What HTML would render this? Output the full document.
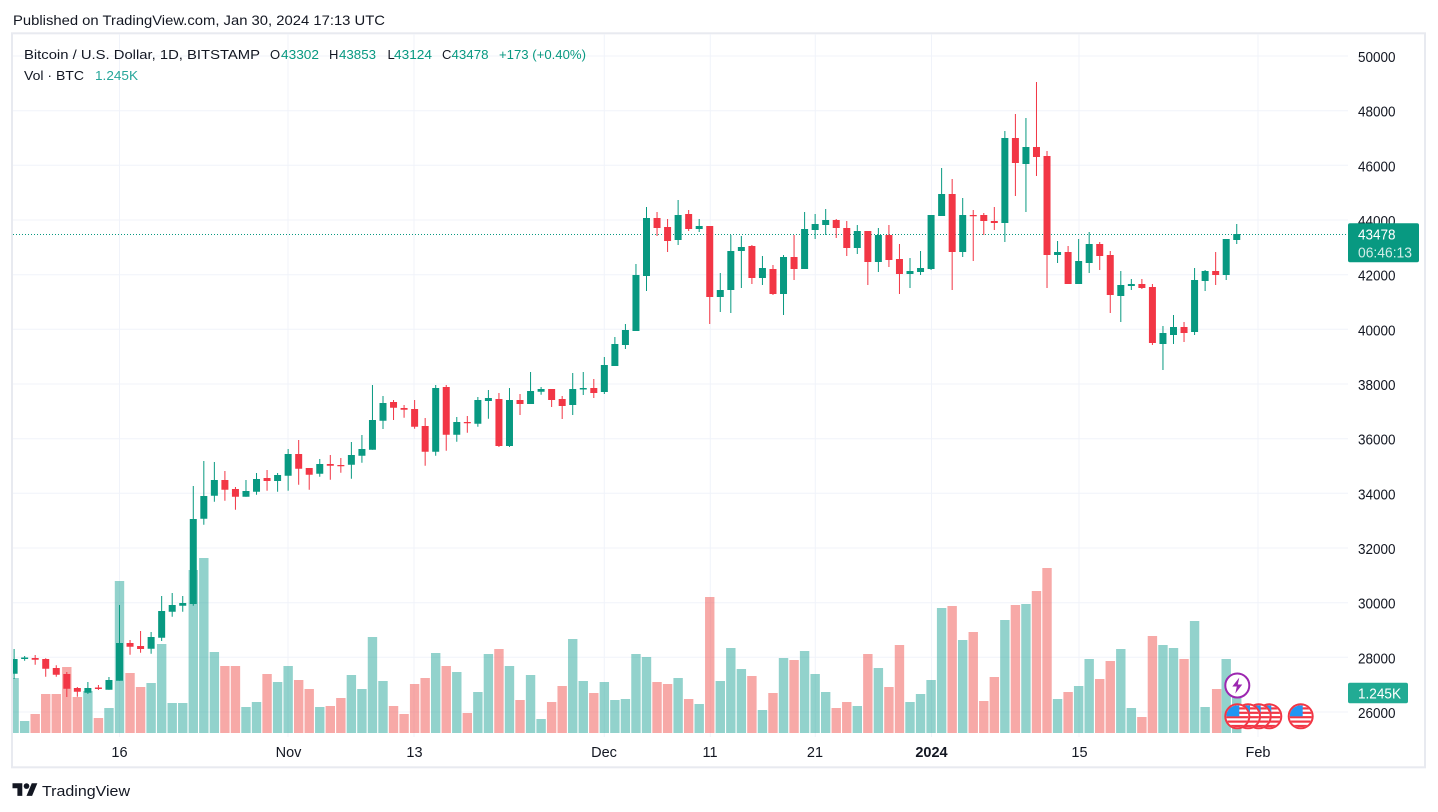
<!DOCTYPE html>
<html><head><meta charset="utf-8"><style>
html,body{margin:0;padding:0;background:#fff;width:1438px;height:812px;overflow:hidden}
svg{display:block}
text{font-family:"Liberation Sans",sans-serif}
</style></head><body>
<svg width="1438" height="812" viewBox="0 0 1438 812" xmlns="http://www.w3.org/2000/svg">
<defs>
<clipPath id="plot"><rect x="13" y="34" width="1335" height="704"/></clipPath>
<clipPath id="fc"><circle r="11"/></clipPath>
<g id="flag">
<circle r="12" fill="#fff"/>
<g clip-path="url(#fc)">
<rect x="-12" y="-9" width="24" height="2.2" fill="#f23645"/>
<rect x="-12" y="-4.6" width="24" height="2.2" fill="#f23645"/>
<rect x="-12" y="-0.2" width="24" height="2.2" fill="#f23645"/>
<rect x="-12" y="4.2" width="24" height="2.2" fill="#f23645"/>
<rect x="-12" y="8.6" width="24" height="2.2" fill="#f23645"/>
<rect x="-11" y="-11" width="13" height="11" fill="#2196f3"/>
</g>
<circle r="12" fill="none" stroke="#f23645" stroke-width="2"/>
</g>
</defs>
<rect width="1438" height="812" fill="#fff"/>
<text x="13" y="25" font-size="14" fill="#131722" textLength="372" lengthAdjust="spacingAndGlyphs">Published on TradingView.com, Jan 30, 2024 17:13 UTC</text>
<rect x="12" y="33.3" width="1413" height="734" fill="none" stroke="#e8eaf0" stroke-width="2"/>
<g stroke="#f0f3fa" stroke-width="1">
<path d="M13 56H1348M13 110.7H1348M13 165.3H1348M13 220H1348M13 274.7H1348M13 329.3H1348M13 384H1348M13 438.7H1348M13 493.3H1348M13 548H1348M13 602.7H1348M13 657.3H1348M13 712H1348"/>
<path d="M119.5 34V737M288 34V737M414 34V737M604.3 34V737M710.3 34V737M815.3 34V737M931.5 34V737M1079 34V737M1258 34V737"/>
</g>
<g clip-path="url(#plot)">
<path fill="#26a69a" fill-opacity="0.5" d="M9.4 678h9.4V733h-9.4zM19.94 721h9.4V733h-9.4zM83.18 691h9.4V733h-9.4zM104.26 708h9.4V733h-9.4zM114.8 581h9.4V733h-9.4zM146.42 683h9.4V733h-9.4zM156.96 644h9.4V733h-9.4zM167.5 703h9.4V733h-9.4zM178.04 703h9.4V733h-9.4zM188.58 570h9.4V733h-9.4zM199.12 558h9.4V733h-9.4zM209.66 652h9.4V733h-9.4zM241.28 707h9.4V733h-9.4zM251.82 702h9.4V733h-9.4zM272.9 682h9.4V733h-9.4zM283.44 666h9.4V733h-9.4zM315.06 707h9.4V733h-9.4zM346.68 675h9.4V733h-9.4zM357.22 689h9.4V733h-9.4zM367.76 637h9.4V733h-9.4zM378.3 681h9.4V733h-9.4zM431 653h9.4V733h-9.4zM452.08 672h9.4V733h-9.4zM473.16 692h9.4V733h-9.4zM483.7 654h9.4V733h-9.4zM504.78 666h9.4V733h-9.4zM525.86 675h9.4V733h-9.4zM536.4 719h9.4V733h-9.4zM568.02 639h9.4V733h-9.4zM578.56 681h9.4V733h-9.4zM599.64 682h9.4V733h-9.4zM610.18 700h9.4V733h-9.4zM620.72 699h9.4V733h-9.4zM631.26 654h9.4V733h-9.4zM641.8 657h9.4V733h-9.4zM673.42 678h9.4V733h-9.4zM694.5 704h9.4V733h-9.4zM715.58 681h9.4V733h-9.4zM726.12 648h9.4V733h-9.4zM736.66 669h9.4V733h-9.4zM757.74 710h9.4V733h-9.4zM778.82 658h9.4V733h-9.4zM799.9 651h9.4V733h-9.4zM810.44 674h9.4V733h-9.4zM820.98 692h9.4V733h-9.4zM852.6 706h9.4V733h-9.4zM873.68 668h9.4V733h-9.4zM905.3 702h9.4V733h-9.4zM915.84 694h9.4V733h-9.4zM926.38 680h9.4V733h-9.4zM936.92 608h9.4V733h-9.4zM958 640h9.4V733h-9.4zM1000.16 620h9.4V733h-9.4zM1021.24 604h9.4V733h-9.4zM1052.86 699h9.4V733h-9.4zM1073.94 686h9.4V733h-9.4zM1084.48 659h9.4V733h-9.4zM1116.1 649h9.4V733h-9.4zM1126.64 708h9.4V733h-9.4zM1158.26 645h9.4V733h-9.4zM1168.8 648h9.4V733h-9.4zM1189.88 621h9.4V733h-9.4zM1200.42 707h9.4V733h-9.4zM1221.5 659h9.4V733h-9.4zM1232.04 693h9.4V733h-9.4z"/>
<path fill="#ef5350" fill-opacity="0.5" d="M30.48 714h9.4V733h-9.4zM41.02 694h9.4V733h-9.4zM51.56 694h9.4V733h-9.4zM62.1 667h9.4V733h-9.4zM72.64 697h9.4V733h-9.4zM93.72 718h9.4V733h-9.4zM125.34 673h9.4V733h-9.4zM135.88 687h9.4V733h-9.4zM220.2 666h9.4V733h-9.4zM230.74 666h9.4V733h-9.4zM262.36 674h9.4V733h-9.4zM293.98 680h9.4V733h-9.4zM304.52 689h9.4V733h-9.4zM325.6 706h9.4V733h-9.4zM336.14 698h9.4V733h-9.4zM388.84 706h9.4V733h-9.4zM399.38 714h9.4V733h-9.4zM409.92 684h9.4V733h-9.4zM420.46 678h9.4V733h-9.4zM441.54 666h9.4V733h-9.4zM462.62 713h9.4V733h-9.4zM494.24 649h9.4V733h-9.4zM515.32 700h9.4V733h-9.4zM546.94 702h9.4V733h-9.4zM557.48 686h9.4V733h-9.4zM589.1 693h9.4V733h-9.4zM652.34 682h9.4V733h-9.4zM662.88 684h9.4V733h-9.4zM683.96 699h9.4V733h-9.4zM705.04 597h9.4V733h-9.4zM747.2 676h9.4V733h-9.4zM768.28 693h9.4V733h-9.4zM789.36 660h9.4V733h-9.4zM831.52 708h9.4V733h-9.4zM842.06 702h9.4V733h-9.4zM863.14 654h9.4V733h-9.4zM884.22 687h9.4V733h-9.4zM894.76 645h9.4V733h-9.4zM947.46 606h9.4V733h-9.4zM968.54 632h9.4V733h-9.4zM979.08 701h9.4V733h-9.4zM989.62 677h9.4V733h-9.4zM1010.7 605h9.4V733h-9.4zM1031.78 591h9.4V733h-9.4zM1042.32 568h9.4V733h-9.4zM1063.4 692h9.4V733h-9.4zM1095.02 679h9.4V733h-9.4zM1105.56 661h9.4V733h-9.4zM1137.18 717h9.4V733h-9.4zM1147.72 636h9.4V733h-9.4zM1179.34 659h9.4V733h-9.4zM1211.96 689h9.4V733h-9.4z"/>
<line x1="13" y1="234.5" x2="1348" y2="234.5" stroke="#089981" stroke-width="1" stroke-dasharray="1 2"/>
<path stroke="#089981" stroke-width="1" fill="none" d="M14.1 649V679M24.64 656V660.7M87.88 682V694M108.96 677V689.7M119.5 605V680.7M151.12 632V653.7M161.66 596V641M172.2 593V616.7M182.74 596V611.7M193.28 486V605.7M203.82 461V524.7M214.36 462V501.7M245.98 480V496.7M256.52 473V494.7M277.6 473V491.7M288.14 449V490.7M319.76 459V476.7M351.38 442V478.7M361.92 435V462.7M372.46 385V449.7M383 396V429M435.7 385V455.7M456.78 417V441.7M477.86 397V426.7M488.4 390V418.7M509.48 388V447M530.56 372V404M541.1 387V394.7M572.72 373V415M583.26 372V395M604.34 357V394M614.88 337V366M625.42 324V349M635.96 264V331M646.5 207V291M678.12 200V245M699.2 219V232M720.28 273V312M730.82 235V313M741.36 236V288M762.44 256V285M783.52 255V315M804.6 212V269M815.14 214V239M825.68 209V235M857.3 225V254M878.38 228V272M910 258V288M920.54 251V275M931.08 215V270M941.62 168V216M962.7 198V257M1004.86 131V242M1025.94 118V212M1057.56 241V263M1078.64 239V284M1089.18 232V273M1120.8 271V322M1131.34 279V290M1162.96 326V370M1173.5 315V344M1194.58 268V335M1205.12 270V291M1226.2 239V280M1236.74 224V244"/>
<path fill="#089981" d="M10.6 659h7V673.7h-7zM21.14 657.5h7V659h-7zM84.38 688h7V692.7h-7zM105.46 680h7V689.7h-7zM116 643h7V680.7h-7zM147.62 637h7V648.7h-7zM158.16 611h7V637.7h-7zM168.7 605h7V611.7h-7zM179.24 603h7V605.7h-7zM189.78 519h7V604h-7zM200.32 496h7V518.7h-7zM210.86 480h7V495.7h-7zM242.48 491h7V496.7h-7zM253.02 479h7V491.7h-7zM274.1 475h7V481h-7zM284.64 454h7V475.7h-7zM316.26 464h7V473.7h-7zM347.88 455h7V464.7h-7zM358.42 449h7V455.7h-7zM368.96 420h7V449.7h-7zM379.5 403h7V420.7h-7zM432.2 388h7V451.7h-7zM453.28 422h7V434.7h-7zM474.36 400h7V423.7h-7zM484.9 398h7V401h-7zM505.98 400h7V446h-7zM527.06 391h7V404h-7zM537.6 389h7V391.7h-7zM569.22 389h7V405h-7zM579.76 388h7V389.5h-7zM600.84 365h7V392h-7zM611.38 344h7V366h-7zM621.92 330h7V345h-7zM632.46 275h7V331h-7zM643 218h7V276h-7zM674.62 215h7V240h-7zM695.7 226h7V229h-7zM716.78 290h7V297h-7zM727.32 251h7V290h-7zM737.86 247h7V251h-7zM758.94 268h7V278h-7zM780.02 257h7V294h-7zM801.1 229h7V269h-7zM811.64 224h7V230h-7zM822.18 220h7V225h-7zM853.8 231h7V248h-7zM874.88 235h7V262h-7zM906.5 271h7V274h-7zM917.04 268h7V272h-7zM927.58 215h7V269h-7zM938.12 194h7V216h-7zM959.2 215h7V252h-7zM1001.36 138h7V223h-7zM1022.44 147h7V164h-7zM1054.06 252h7V255h-7zM1075.14 261h7V284h-7zM1085.68 244h7V263h-7zM1117.3 285h7V296h-7zM1127.84 284h7V286h-7zM1159.46 333h7V344h-7zM1170 327h7V335h-7zM1191.08 280h7V332h-7zM1201.62 271h7V281h-7zM1222.7 239h7V275h-7zM1233.24 234h7V240h-7z"/>
<path stroke="#f23645" stroke-width="1" fill="none" d="M35.18 655V664.7M45.72 658.3V676.7M56.26 665.3V676.7M66.8 672V697M77.34 687V696.7M98.42 685V690M130.04 640V654.7M140.58 631V652.7M224.9 471V500.7M235.44 487V509.7M267.06 470V490.7M298.68 440V484.7M309.22 468V489.7M330.3 455V479.7M340.84 458V472.7M393.54 400V420M404.08 405V417.7M414.62 400V428.7M425.16 418V465.7M446.24 385V450.7M467.32 416V432.7M498.94 393V447M520.02 394V415M551.64 389V407M562.18 396V419M593.8 379V398M657.04 212V236M667.58 219V252M688.66 210V231M709.74 226V324M751.9 245V284M772.98 265V295M794.06 235V280M836.22 219V238M846.76 221V256M867.84 231V285M888.92 225V267M899.46 244V294M952.16 179V290M973.24 210V261M983.78 213V235M994.32 207V230M1015.4 114V196M1036.48 82V176M1047.02 151V288M1068.1 246V284M1099.72 242V270M1110.26 251V313M1141.88 279V289M1152.42 284V345M1184.04 322V342M1215.66 252V285"/>
<path fill="#f23645" d="M31.68 658h7V659.7h-7zM42.22 659h7V668.7h-7zM52.76 668h7V674.7h-7zM63.3 674h7V688.7h-7zM73.84 688h7V691.7h-7zM94.92 687.5h7V689h-7zM126.54 643h7V646.7h-7zM137.08 646h7V649h-7zM221.4 480h7V489.7h-7zM231.94 489h7V496.7h-7zM263.56 478h7V481h-7zM295.18 454h7V468.7h-7zM305.72 468h7V474.7h-7zM326.8 464h7V465.7h-7zM337.34 465h7V466.2h-7zM390.04 402h7V407.7h-7zM400.58 408h7V409.7h-7zM411.12 409h7V426.7h-7zM421.66 426h7V451.7h-7zM442.74 387h7V434.7h-7zM463.82 422h7V423.2h-7zM495.44 399h7V446h-7zM516.52 400h7V404h-7zM548.14 389h7V400h-7zM558.68 399h7V406h-7zM590.3 388h7V393h-7zM653.54 218h7V228h-7zM664.08 227h7V241h-7zM685.16 214h7V229h-7zM706.24 226h7V297h-7zM748.4 246h7V278h-7zM769.48 269h7V294h-7zM790.56 257h7V269h-7zM832.72 220h7V228h-7zM843.26 228h7V248h-7zM864.34 231h7V262h-7zM885.42 235h7V260h-7zM895.96 259h7V274h-7zM948.66 194h7V252h-7zM969.74 215h7V216.2h-7zM980.28 215h7V221h-7zM990.82 221h7V223h-7zM1011.9 138h7V163h-7zM1032.98 147h7V157h-7zM1043.52 156h7V255h-7zM1064.6 252h7V284h-7zM1096.22 244h7V256h-7zM1106.76 255h7V295h-7zM1138.38 284h7V288h-7zM1148.92 287h7V343h-7zM1180.54 327h7V333h-7zM1212.16 271h7V275h-7z"/>
</g>
<!-- event icons -->
<circle cx="1237.3" cy="685.5" r="12" fill="#fff" stroke="#9c27b0" stroke-width="2"/>
<path d="M1239.3 677.5L1232.3 686.5H1236.8L1235.3 693.5L1242.3 684.5H1237.8Z" fill="#9c27b0"/>
<use href="#flag" x="1300.7" y="716.3"/>
<use href="#flag" x="1269.3" y="716.3"/>
<use href="#flag" x="1258.7" y="716.3"/>
<use href="#flag" x="1248" y="716.3"/>
<use href="#flag" x="1237.3" y="716.3"/>
<!-- legend -->
<text x="24" y="59" font-size="13" fill="#131722" textLength="236" lengthAdjust="spacingAndGlyphs">Bitcoin / U.S. Dollar, 1D, BITSTAMP</text>
<text x="270" y="59" font-size="13" fill="#131722">O</text>
<text x="281" y="59" font-size="13" fill="#089981" textLength="38" lengthAdjust="spacingAndGlyphs">43302</text>
<text x="329" y="59" font-size="13" fill="#131722">H</text>
<text x="339" y="59" font-size="13" fill="#089981" textLength="37" lengthAdjust="spacingAndGlyphs">43853</text>
<text x="387.5" y="59" font-size="13" fill="#131722">L</text>
<text x="394" y="59" font-size="13" fill="#089981" textLength="38" lengthAdjust="spacingAndGlyphs">43124</text>
<text x="442" y="59" font-size="13" fill="#131722">C</text>
<text x="451.5" y="59" font-size="13" fill="#089981" textLength="37" lengthAdjust="spacingAndGlyphs">43478</text>
<text x="499" y="59" font-size="13" fill="#089981" textLength="87" lengthAdjust="spacingAndGlyphs">+173 (+0.40%)</text>
<text x="24" y="80" font-size="13" fill="#131722" textLength="60" lengthAdjust="spacingAndGlyphs">Vol · BTC</text>
<text x="95" y="80" font-size="13" fill="#26a69a" textLength="43" lengthAdjust="spacingAndGlyphs">1.245K</text>
<!-- price axis -->
<g font-size="14.5" fill="#131722">
<text x="1358" y="62" textLength="37.5" lengthAdjust="spacingAndGlyphs">50000</text>
<text x="1358" y="116.7" textLength="37.5" lengthAdjust="spacingAndGlyphs">48000</text>
<text x="1358" y="171.3" textLength="37.5" lengthAdjust="spacingAndGlyphs">46000</text>
<text x="1358" y="226" textLength="37.5" lengthAdjust="spacingAndGlyphs">44000</text>
<text x="1358" y="280.7" textLength="37.5" lengthAdjust="spacingAndGlyphs">42000</text>
<text x="1358" y="335.3" textLength="37.5" lengthAdjust="spacingAndGlyphs">40000</text>
<text x="1358" y="390" textLength="37.5" lengthAdjust="spacingAndGlyphs">38000</text>
<text x="1358" y="444.7" textLength="37.5" lengthAdjust="spacingAndGlyphs">36000</text>
<text x="1358" y="499.3" textLength="37.5" lengthAdjust="spacingAndGlyphs">34000</text>
<text x="1358" y="554" textLength="37.5" lengthAdjust="spacingAndGlyphs">32000</text>
<text x="1358" y="608.7" textLength="37.5" lengthAdjust="spacingAndGlyphs">30000</text>
<text x="1358" y="663.3" textLength="37.5" lengthAdjust="spacingAndGlyphs">28000</text>
<text x="1358" y="718" textLength="37.5" lengthAdjust="spacingAndGlyphs">26000</text>
</g>
<rect x="1348" y="223.3" width="71" height="39" rx="2" fill="#089981"/>
<text x="1358" y="239.5" font-size="14.5" fill="#fff" textLength="37.5" lengthAdjust="spacingAndGlyphs">43478</text>
<text x="1358" y="257.5" font-size="14.5" fill="#d2ede8" textLength="54" lengthAdjust="spacingAndGlyphs">06:46:13</text>
<rect x="1348" y="682.7" width="60" height="20.6" rx="2" fill="#22ab94"/>
<text x="1358" y="698.5" font-size="14.5" fill="#fff" textLength="43" lengthAdjust="spacingAndGlyphs">1.245K</text>
<!-- time axis -->
<g font-size="14.5" fill="#131722" text-anchor="middle">
<text x="119.5" y="757">16</text>
<text x="288.5" y="757">Nov</text>
<text x="414.5" y="757">13</text>
<text x="604" y="757">Dec</text>
<text x="710" y="757">11</text>
<text x="815" y="757">21</text>
<text x="931.5" y="757" font-weight="bold">2024</text>
<text x="1079.5" y="757">15</text>
<text x="1258" y="757">Feb</text>
</g>
<!-- footer logo -->
<g transform="translate(12.5,780.5) scale(0.7)" fill="#131722">
<path d="M14 22H7V11H0V4h14v18zM28 22h-8l7.5-18h8L28 22z"/>
<circle cx="20" cy="8" r="4"/>
</g>
<text x="42" y="796" font-size="15" fill="#131722" textLength="88" lengthAdjust="spacingAndGlyphs">TradingView</text>
</svg>
</body></html>
